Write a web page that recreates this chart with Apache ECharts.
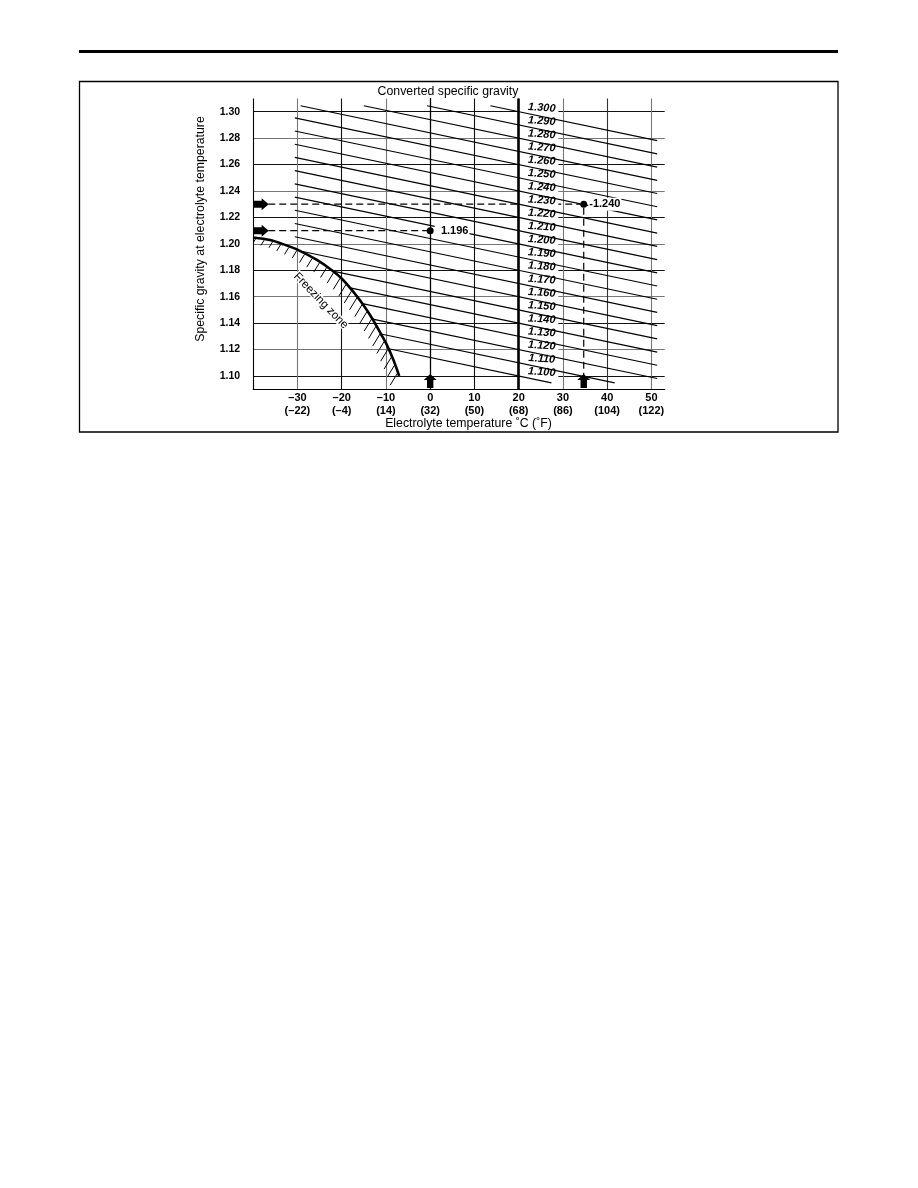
<!DOCTYPE html>
<html>
<head>
<meta charset="UTF-8">
<title></title>
<script src="https://cdn.jsdelivr.net/npm/echarts@6/dist/echarts.min.js"></script>
</head>
<body style="margin:0;background:#fff;">
<div id="chart" style="width:918px;height:1188px;"></div>
<script>
// axis ticks
var tempTicks = [-30, -20, -10, 0, 10, 20, 30, 40, 50];
var tempTicksF = ['(\u201322)', '(\u20134)', '(14)', '(32)', '(50)', '(68)', '(86)', '(104)', '(122)'];
var gravityTicks = [1.10, 1.12, 1.14, 1.16, 1.18, 1.20, 1.22, 1.24, 1.26, 1.28, 1.30];

// converted specific gravity lines (value read at 20 C), start / end points
var convValues  = [1.100, 1.110, 1.120, 1.130, 1.140, 1.150, 1.160, 1.170, 1.180, 1.190, 1.200,
                   1.210, 1.220, 1.230, 1.240, 1.250, 1.260, 1.270, 1.280, 1.290, 1.300];
var convStartT  = [-9.4, -11.1, -13.0, -15.3, -18.1, -22.0, -29.1, -30.6, -30.6, -30.6, -30.6,
                   -30.6, -30.6, -30.6, -30.6, -30.6, -30.6, -29.3, -15.0, -0.7, 13.6];
var convStartSG = [1.1206, 1.1318, 1.1430, 1.1547, 1.1667, 1.1794, 1.1944, 1.2054, 1.2154, 1.2254, 1.2354,
                   1.2454, 1.2554, 1.2654, 1.2754, 1.2854, 1.2954, 1.3045, 1.3045, 1.3045, 1.3045];
var convEndT    = [27.4, 41.7, 51.3, 51.3, 51.3, 51.3, 51.3, 51.3, 51.3, 51.3, 51.3,
                   51.3, 51.3, 51.3, 51.3, 51.3, 51.3, 51.3, 51.3, 51.3, 51.3];
var convEndSG   = [1.0948, 1.0948, 1.0981, 1.1081, 1.1181, 1.1281, 1.1381, 1.1481, 1.1581, 1.1681, 1.1781,
                   1.1881, 1.1981, 1.2081, 1.2181, 1.2281, 1.2381, 1.2481, 1.2581, 1.2681, 1.2781];

// freezing limit curve
var freezeT  = [-40.0, -36.2, -33.2, -29.8, -25.6, -22.3, -19.9, -17.4, -15.1, -12.9, -11.0, -9.8, -8.3, -7.0];
var freezeSG = [1.2048, 1.2029, 1.1997, 1.1953, 1.1878, 1.1802, 1.1734, 1.1638, 1.1537, 1.1424, 1.1310, 1.1235, 1.1121, 1.1000];

// the two worked examples
var sampleT = [0, 34.7];
var sampleSG = [1.21, 1.23];
var sampleResult = ['1.196', '1.240'];

var font = "'Liberation Sans', Arial, sans-serif";
var arrowRight = 'path://M0,2.5L8,2.5L8,0L15,6L8,12L8,9.5L0,9.5Z';
var arrowUp = 'path://M3.3,14L3.3,6L0,6L6.5,0L13,6L9.7,6L9.7,14Z';
var hidden = { color: 'rgba(0,0,0,0)', opacity: 1 };

var lineData = convValues.map(function (v, i) {
	return { coords: [[convStartT[i], convStartSG[i]], [convEndT[i], convEndSG[i]]] };
});
var labelData = convValues.map(function (v) { return [24.6, v]; });

// hatch ticks along the freezing curve, on the frozen side
function renderHatch(params, api) {
	var pts = freezeT.map(function (t, i) { return api.coord([t, freezeSG[i]]); });
	var children = [];
	var step = 8.6, dist = 3, total = 0;
	for (var i = 1; i < pts.length; i++) {
		var x0 = pts[i - 1][0], y0 = pts[i - 1][1], x1 = pts[i][0], y1 = pts[i][1];
		var seg = Math.sqrt((x1 - x0) * (x1 - x0) + (y1 - y0) * (y1 - y0));
		while (dist <= total + seg) {
			var f = (dist - total) / seg;
			var px = x0 + f * (x1 - x0), py = y0 + f * (y1 - y0);
			var len = Math.min(14, 5.5 + dist * 0.075);
			children.push({
				type: 'line',
				shape: { x1: px - 0.5, y1: py + 0.8, x2: px - 0.5 - 0.52 * len, y2: py + 0.8 + 0.85 * len },
				style: { stroke: '#000', lineWidth: 1 }
			});
			dist += step;
		}
		total += seg;
	}
	return { type: 'group', children: children };
}

var chart = echarts.init(document.getElementById('chart'));
chart.setOption({
	animation: false,
	backgroundColor: '#fff',
	grid: { left: 253.2, top: 98.5, width: 411.5, height: 290.7, containLabel: false },
	xAxis: {
		type: 'value', min: -40, max: 53, interval: 10,
		axisLine: { lineStyle: { color: '#000', width: 1.2 } },
		axisTick: { show: false },
		axisLabel: {
			margin: 3, color: '#000', fontFamily: font, fontWeight: 'bold', fontSize: 11, lineHeight: 12.5,
			formatter: function (v) {
				var i = tempTicks.indexOf(Math.round(v));
				if (i < 0 || Math.abs(v - Math.round(v)) > 0.01) return '';
				var c = tempTicks[i] < 0 ? '\u2013' + Math.abs(tempTicks[i]) : String(tempTicks[i]);
				return c + '\n' + tempTicksF[i];
			}
		},
		splitLine: {
			show: true, showMaxLine: false,
			lineStyle: { width: 1.1, color: ['#000', '#777', '#111', '#777', '#111', '#111', '#111', '#777', '#333', '#777'] }
		}
	},
	yAxis: {
		type: 'value', min: 1.09, max: 1.31, interval: 0.01,
		axisLine: { show: true, lineStyle: { color: '#000', width: 1.2 } },
		axisTick: { show: false },
		axisLabel: {
			margin: 13, color: '#000', fontFamily: font, fontWeight: 'bold', fontSize: 10.5,
			formatter: function (v) {
				for (var i = 0; i < gravityTicks.length; i++) {
					if (Math.abs(gravityTicks[i] - v) < 1e-6) return gravityTicks[i].toFixed(2);
				}
				return '';
			}
		},
		splitLine: {
			show: true, showMaxLine: false,
			lineStyle: { width: 1.2, color: ['rgba(0,0,0,0)', '#111', 'rgba(0,0,0,0)', '#777'] }
		}
	},
	graphic: [
		{ type: 'rect', shape: { x: 79, y: 50, width: 759, height: 3 }, style: { fill: '#000' } },
		{ type: 'rect', shape: { x: 79.5, y: 81.5, width: 758.5, height: 350.5 }, style: { fill: null, stroke: '#000', lineWidth: 1.3 } },
		{ type: 'text', x: 448, y: 91.5, style: { text: 'Converted specific gravity', font: '12.3px ' + font, fill: '#000', textAlign: 'center', textVerticalAlign: 'middle' } },
		{ type: 'text', x: 468.5, y: 424, style: { text: 'Electrolyte temperature \u02daC (\u02daF)', font: '12.3px ' + font, fill: '#000', textAlign: 'center', textVerticalAlign: 'middle' } },
		{ type: 'text', x: 201, y: 229, rotation: Math.PI / 2, style: { text: 'Specific gravity at electrolyte temperature', font: '12.3px ' + font, fill: '#000', textAlign: 'center', textVerticalAlign: 'middle' } }
	],
	series: [
		{
			// example reading lines
			type: 'line', z: 1, symbol: 'none', silent: true,
			data: [[-36.6, sampleSG[1]], [sampleT[1], sampleSG[1]], [sampleT[1], 1.10]],
			lineStyle: { color: '#000', width: 1.2, type: [7, 4] },
			markLine: {
				symbol: 'none', silent: true, label: { show: false },
				lineStyle: { color: '#000', width: 2.6, type: 'solid' },
				data: [{ xAxis: 20 }]
			}
		},
		{
			type: 'line', z: 1, symbol: 'none', silent: true,
			data: [[-36.6, sampleSG[0]], [sampleT[0], sampleSG[0]]],
			lineStyle: { color: '#000', width: 1.2, type: [7, 4] }
		},
		{
			// labels of the converted lines
			type: 'scatter', z: 2, silent: true, symbolSize: 1,
			itemStyle: hidden,
			data: labelData,
			label: {
				show: true, position: 'inside', offset: [0, -4], rotate: -4, opacity: 1,
				fontFamily: font, fontSize: 11, fontWeight: 'bold', fontStyle: 'italic', color: '#000',
				backgroundColor: '#fff', padding: [1, 3, 1, 8],
				formatter: function (p) { return p.value[1].toFixed(3); }
			}
		},
		{
			type: 'lines', coordinateSystem: 'cartesian2d', z: 3, silent: true,
			data: lineData,
			lineStyle: { color: '#000', width: 1.2, opacity: 1, curveness: 0 }
		},
		{
			type: 'line', z: 4, symbol: 'none', silent: true, smooth: 0.3,
			data: freezeT.map(function (t, i) { return [t, freezeSG[i]]; }),
			lineStyle: { color: '#000', width: 2.6 }
		},
		{
			type: 'custom', z: 4, silent: true, clip: true,
			renderItem: renderHatch,
			data: [[freezeT[0], freezeSG[0]]]
		},
		{
			type: 'scatter', z: 5, silent: true, symbolSize: 1,
			itemStyle: hidden,
			data: [[-24.7, 1.1569]],
			label: {
				show: true, position: 'inside', rotate: -46, formatter: 'Freezing zone', opacity: 1,
				fontFamily: font, fontSize: 11.5, color: '#000', textBorderColor: '#fff', textBorderWidth: 3
			}
		},
		{
			type: 'scatter', z: 6, silent: true, symbol: 'circle', symbolSize: 7,
			itemStyle: { color: '#000', opacity: 1 },
			data: sampleT.map(function (t, i) { return [t, sampleSG[i]]; }),
			label: {
				show: true, position: 'right', distance: 1, opacity: 1,
				fontFamily: font, fontSize: 11, fontWeight: 'bold', color: '#000',
				backgroundColor: '#fff', padding: [1, 1, 1, 1],
				formatter: function (p) { return (p.dataIndex === 0 ? '\u2009 ' : '-') + sampleResult[p.dataIndex]; }
			}
		},
		{
			type: 'scatter', z: 6, silent: true, symbol: arrowRight, symbolSize: [15, 12],
			itemStyle: { color: '#000', opacity: 1 },
			data: sampleSG.map(function (s) { return [-38.2, s]; })
		},
		{
			type: 'scatter', z: 6, silent: true, symbol: arrowUp, symbolSize: [13, 14],
			itemStyle: { color: '#000', opacity: 1 },
			data: sampleT.map(function (t) { return [t, 1.0962]; })
		}
	]
});
</script>
</body>
</html>
